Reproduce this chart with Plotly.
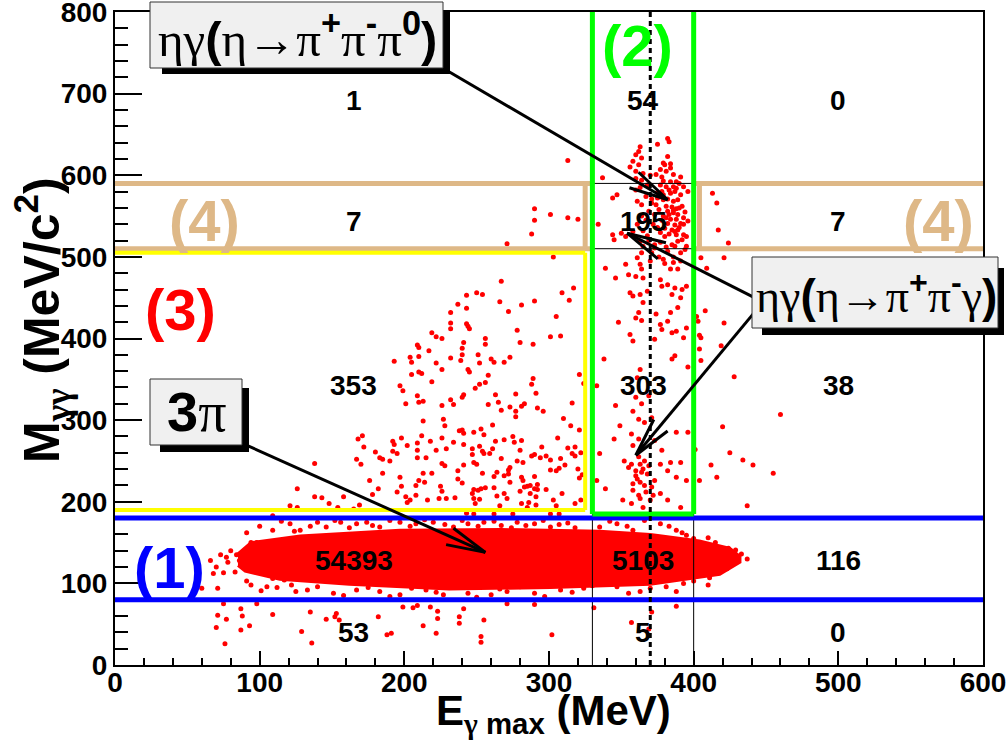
import math
import plotly.graph_objects as go

# ---------------- data ----------------
# dense 3pi band core outline (E_gamma_max [MeV], M_gg [MeV/c^2])
band_core_x = [85, 94, 128, 197, 267, 335, 370, 404, 425, 432, 432, 418, 370, 301, 231, 162, 114, 90, 85]
band_core_y = [136, 150, 158, 165, 166, 164, 160, 152, 143, 133, 126, 111, 99, 95, 93, 99, 105, 115, 122]

# sparse events, region (3) left cloud
pts_cloud_left = [
    (237, 442), (232, 432), (232, 419), (232, 412), (219, 407), (222, 402), (226, 400), (209, 392), (210, 389),
    (217, 385), (204, 377), (210, 378), (205, 371), (193, 372), (222, 370), (232, 376), (226, 362), (205, 356),
    (210, 359), (212, 357), (219, 347), (197, 342), (199, 336), (201, 320), (209, 330), (210, 322), (213, 323),
    (226, 318), (232, 325), (234, 319), (213, 299), (227, 301), (228, 293), (238, 287), (168, 277), (171, 281),
    (172, 267), (192, 274), (193, 270), (198, 278), (202, 269), (209, 272), (212, 281), (218, 274), (226, 278),
    (234, 273), (180, 261), (192, 262), (195, 259), (183, 254), (185, 252), (190, 250), (167, 252), (170, 246),
    (138, 247), (209, 263), (209, 254), (215, 254), (222, 263), (229, 265), (226, 247), (228, 244), (237, 238),
    (185, 235), (182, 216), (178, 209), (176, 226), (197, 230), (195, 212), (198, 219), (201, 206), (202, 199),
    (204, 202), (208, 220), (210, 226), (214, 224), (213, 235), (219, 235), (225, 219), (226, 213), (224, 204),
    (229, 204), (235, 205), (237, 228), (216, 202), (208, 208), (126, 216), (138, 206), (143, 205), (158, 206),
    (148, 198), (121, 195), (126, 193), (154, 193), (169, 196), (165, 191),
]

# sparse events, region (3) right part and region (4) left box
pts_cloud_right = [
    (290, 559), (301, 552), (290, 545), (313, 548), (320, 546), (288, 528), (271, 516), (313, 618),
    (303, 500), (267, 470), (243, 453), (250, 456), (254, 454), (309, 456), (317, 462), (314, 447), (266, 445),
    (290, 446), (243, 437), (281, 441), (272, 433), (305, 427), (243, 418), (244, 415), (245, 412), (278, 410),
    (256, 400), (256, 393), (241, 395), (240, 388), (280, 395), (289, 393), (301, 402), (308, 403), (240, 380),
    (239, 373), (251, 380), (252, 370), (260, 375), (262, 371), (269, 371), (273, 377), (244, 362), (245, 359),
    (258, 355), (256, 346), (252, 344), (249, 339), (289, 351), (288, 344), (291, 333), (321, 356), (324, 345),
    (263, 331), (277, 332), (240, 328), (241, 331), (258, 319), (265, 322), (267, 312), (273, 316), (277, 311),
    (277, 304), (281, 317), (283, 320), (292, 315), (296, 311), (316, 321), (310, 302), (315, 293), (321, 288),
    (240, 288), (241, 284), (248, 285), (253, 289), (255, 282), (261, 294), (241, 270), (247, 265), (247, 258),
    (252, 268), (254, 262), (255, 259), (259, 259), (261, 265), (263, 274), (269, 276), (275, 280), (276, 273),
    (281, 275), (280, 263), (288, 256), (290, 258), (295, 267), (294, 254), (298, 256), (301, 251), (306, 278),
    (308, 253), (313, 266), (316, 259), (318, 267), (318, 256), (322, 260), (241, 245), (248, 248), (250, 246),
    (254, 235), (240, 223), (267, 253), (264, 236), (262, 231), (269, 232), (272, 234), (272, 239), (273, 242),
    (273, 224), (278, 250), (282, 248), (281, 230), (282, 226), (290, 231), (292, 221), (301, 239), (305, 238),
    (307, 241), (311, 245), (320, 240), (321, 229), (323, 233), (248, 215), (251, 214), (253, 216), (256, 217),
    (247, 210), (248, 204), (249, 198), (252, 203), (262, 217), (264, 207), (269, 210), (271, 204), (266, 195),
    (280, 213), (283, 218), (285, 219), (287, 220), (290, 216), (292, 215), (298, 215), (287, 210), (291, 206),
    (281, 198), (286, 199), (291, 196), (303, 202), (305, 195), (309, 210), (318, 198), (322, 202),
    (243, 186), (248, 185), (262, 185), (275, 185), (285, 193), (301, 185), (307, 185),
]

# eta column (region 2)
pts_eta = [
    (382, 645), (383, 641), (375, 638), (363, 635), (362, 629), (360, 625), (364, 621), (382, 623), (358, 617),
    (379, 615), (380, 613), (384, 614), (362, 613), (356, 610), (377, 607), (381, 605), (384, 609), (360, 605),
    (365, 602), (370, 600), (374, 601), (378, 598), (386, 601), (391, 598), (360, 596), (364, 594), (379, 593),
    (384, 592), (388, 592), (337, 597), (368, 588), (377, 588), (381, 586), (388, 584), (393, 586), (363, 585),
    (360, 582), (375, 579), (378, 580), (384, 578), (387, 580), (391, 576), (396, 580), (347, 576), (344, 572),
    (367, 574), (371, 571), (379, 570), (382, 571), (386, 568), (389, 570), (361, 568), (364, 564), (374, 564),
    (381, 562), (385, 561), (388, 559), (392, 562), (334, 540), (382, 556), (386, 554), (389, 552), (379, 550),
    (384, 546), (388, 546), (393, 548), (382, 541), (387, 539), (391, 541), (380, 535), (385, 533), (389, 533),
    (393, 527), (395, 525), (388, 527), (392, 521), (344, 527), (345, 521), (350, 529), (353, 525), (358, 531),
    (363, 519), (365, 513), (364, 505), (373, 511), (382, 507), (387, 513), (395, 513), (391, 505), (361, 499),
    (363, 491), (364, 485), (370, 495), (379, 497), (386, 493), (391, 495), (384, 485), (389, 485), (339, 486),
    (346, 474), (353, 491), (355, 478), (360, 476), (365, 474), (377, 472), (382, 466), (378, 464), (387, 462),
    (392, 460), (395, 464), (356, 456), (358, 452), (363, 454), (368, 458), (385, 454), (391, 450), (365, 444),
    (374, 430), (384, 432), (389, 438), (362, 432), (360, 425), (364, 422), (348, 420), (378, 411), (382, 421),
    (388, 409), (393, 401), (356, 405), (358, 397), (373, 399), (377, 417), (385, 407), (395, 413), (338, 375),
    (385, 375), (387, 379), (396, 365), (363, 362), (361, 352), (333, 342), (346, 318), (360, 328), (364, 320),
    (369, 330), (358, 311), (362, 301), (366, 297), (371, 303), (345, 277), (349, 293), (357, 283), (362, 277),
    (358, 269), (364, 267), (373, 275), (388, 285), (396, 285), (378, 263), (335, 259), (352, 250), (357, 246),
    (360, 238), (363, 246), (365, 240), (368, 234), (361, 228), (363, 224), (366, 220), (371, 218), (377, 246),
    (384, 248), (391, 248), (382, 238), (388, 230), (395, 226), (373, 226), (377, 210), (382, 202), (351, 202),
    (365, 193), (391, 193), (339, 216), (333, 226), (358, 214), (362, 208), (357, 198), (370, 202),
    (369, 556), (373, 552), (376, 558), (378, 545), (381, 548), (383, 552), (386, 557), (390, 560), (394, 555),
    (372, 540), (375, 536), (377, 530), (380, 525), (383, 528), (387, 531), (390, 536), (393, 540), (396, 544),
    (371, 566), (375, 572), (379, 576), (383, 582), (386, 586), (390, 590), (369, 520), (373, 515), (377, 518),
    (381, 512), (385, 515), (389, 519), (394, 509), (367, 545), (364, 550), (361, 540), (365, 532), (368, 526),
    (371, 505), (376, 500), (380, 492), (386, 500), (362, 255), (366, 250), (360, 232), (364, 236), (369, 244),
    (358, 222), (367, 212), (372, 208), (363, 204), (355, 242),
]

# right of the eta column (E > 400 MeV)
pts_right = [
    (408, 434), (402, 427), (403, 421), (421, 419), (404, 404), (405, 401), (419, 391), (404, 387), (405, 373),
    (428, 353), (460, 307), (420, 292), (401, 264), (425, 260), (434, 251), (441, 245), (412, 245), (455, 235),
    (404, 226), (416, 230), (437, 195), (413, 578), (416, 566), (417, 533), (424, 517), (421, 499), (409, 486),
    (405, 499),
]

# band fringe and tails (around / below the pi0 band)
pts_band_edge = [
    (109, 183), (121, 173), (124, 164), (91, 162), (94, 150), (98, 150), (104, 149), (77, 132), (83, 114),
    (75, 113), (60, 94), (71, 94), (91, 103), (94, 98), (101, 91), (105, 96), (109, 106), (112, 95), (117, 104),
    (122, 98), (84, 135), (86, 128), (87, 122), (89, 120),
    (109, 165), (128, 165), (140, 175), (146, 169), (156, 175), (167, 173), (174, 175), (183, 169), (197, 175),
    (208, 173), (220, 175), (234, 169), (244, 173), (255, 175), (267, 171), (278, 175), (290, 173), (301, 169),
    (313, 174), (335, 169), (347, 173), (358, 165), (377, 173), (388, 165), (395, 159),
    (100, 170), (115, 176), (135, 170), (152, 177), (162, 168), (178, 171), (190, 177), (204, 170), (214, 178),
    (228, 172), (240, 177), (251, 170), (262, 176), (274, 168), (284, 171), (296, 177), (307, 172), (318, 168),
    (342, 176), (354, 170), (366, 177), (383, 170), (392, 162), (400, 155),
    (133, 92), (151, 88), (167, 92), (183, 90), (197, 86), (215, 92), (227, 86), (244, 88), (260, 86), (271, 90),
    (290, 88), (308, 92), (324, 94), (347, 96), (363, 90), (381, 96), (393, 100),
    (125, 90), (140, 96), (158, 85), (175, 95), (190, 84), (205, 94), (222, 89), (236, 95), (250, 83), (266, 93),
    (280, 96), (297, 84), (316, 89), (330, 97), (355, 88), (370, 94), (388, 90), (400, 103), (410, 98),
    (410, 156), (424, 143), (429, 141), (423, 118), (411, 107), (421, 130), (415, 150), (417, 122), (407, 112),
    (413, 138), (419, 126), (405, 145), (402, 115), (425, 133), (433, 136), (437, 130), (409, 128),
    (66, 128), (70, 120), (73, 135), (78, 126), (80, 140), (68, 112),
]

# below the band (M_gg < 80)
pts_low = [
    (75, 75), (98, 75), (87, 69), (71, 61), (88, 60), (109, 62), (77, 56), (70, 46), (93, 48), (87, 43), (76, 26),
    (129, 41), (136, 27), (135, 65), (146, 56), (152, 59), (153, 63), (155, 55), (182, 59), (188, 37), (191, 39),
    (206, 70), (209, 73), (213, 48), (223, 66), (223, 57), (222, 39), (238, 59), (238, 51), (253, 35), (253, 28),
    (255, 55), (302, 37), (199, 71), (218, 71), (241, 69), (271, 75), (290, 74),
    (331, 70), (357, 52), (369, 44), (371, 65), (388, 72),
]

# event counts per cell
count_col_x = [165, 365, 500]
count_row_y = [692, 543, 343, 128, 40]
counts = [
    ["1", "54", "0"],
    ["7", "195", "7"],
    ["353", "303", "38"],
    ["54393", "5103", "116"],
    ["53", "5", "0"],
]

# selection cuts
pi0_window = [80, 180]          # (1)
eta_e_window = [330, 400]       # (2)
eta_m_min = 185
bkg_box = [190, 505, 325]       # (3) ymin, ymax, xmax
side_m = [510, 590]             # (4)
side_left_x = [325, 330]
side_right_x = [404, 400]
e_peak = 370

x_ticks = [0, 100, 200, 300, 400, 500, 600]
y_ticks = [0, 100, 200, 300, 400, 500, 600, 700, 800]

# ---------------- layout geometry ----------------
W, H = 1007, 741
L, R, T, B = 115, 24, 12, 76
PW, PH = W - L - R, H - T - B
X_RANGE = (0, 600)
Y_RANGE = (0, 800)
SX = PW / (X_RANGE[1] - X_RANGE[0])
SY = PH / (Y_RANGE[1] - Y_RANGE[0])


def pxx(px):
    return (px - L) / PW


def pxy(py):
    return (H - B - py) / PH


RED = "#ff0000"
BLUE = "#0000ff"
GREEN = "#00ff00"
YELLOW = "#ffff00"
TAN = "#deb887"
SANS = "Liberation Sans"
SERIF = "Liberation Serif"

all_pts = pts_cloud_left + pts_cloud_right + pts_eta + pts_right + pts_band_edge + pts_low

fig = go.Figure()
fig.add_trace(go.Scatter(
    x=band_core_x, y=band_core_y, mode="lines", fill="toself", fillcolor=RED,
    line=dict(color=RED, width=3), hoverinfo="skip", showlegend=False))
fig.add_trace(go.Scatter(
    x=[p[0] for p in all_pts], y=[p[1] for p in all_pts], mode="markers",
    marker=dict(color=RED, size=5, line=dict(width=0)), showlegend=False))

shapes = []


def seg(x0, y0, x1, y1, color, width, dash=None):
    d = dict(type="line", x0=x0, y0=y0, x1=x1, y1=y1, layer="above", xref="x", yref="y",
             line=dict(color=color, width=width))
    if dash:
        d["line"]["dash"] = dash
    shapes.append(d)


# thin black cell lines
for xv in eta_e_window:
    seg(xv, 0, xv, side_m[1], "black", 1)
for yv in side_m:
    seg(eta_e_window[0], yv, eta_e_window[1], yv, "black", 1)

# (4) side-band boxes
for yv in side_m:
    seg(0, yv, side_left_x[1], yv, TAN, 5)
    seg(side_right_x[1], yv, 600, yv, TAN, 5)
seg(side_left_x[0], side_m[0], side_left_x[0], side_m[1], TAN, 5)
seg(side_right_x[0], side_m[0], side_right_x[0], side_m[1], TAN, 5)

# (3) yellow box
seg(0, bkg_box[0], bkg_box[2], bkg_box[0], YELLOW, 4)
seg(0, bkg_box[1], bkg_box[2], bkg_box[1], YELLOW, 4)
seg(bkg_box[2], bkg_box[0], bkg_box[2], bkg_box[1], YELLOW, 4)

# (1) blue lines
for yv in pi0_window:
    seg(0, yv, 600, yv, BLUE, 5)

# (2) green box
seg(eta_e_window[0], eta_m_min, eta_e_window[0], 800, GREEN, 5)
seg(eta_e_window[1], eta_m_min, eta_e_window[1], 800, GREEN, 5)
seg(eta_e_window[0], eta_m_min, eta_e_window[1], eta_m_min, GREEN, 5)

# dotted peak line
seg(e_peak, 0, e_peak, 800, "black", 3, dash="5px,4px")


# arrows (tail -> tip) in data coordinates
def arrow(tail, tip, head_len=40, half_angle=13):
    tx, ty = tail
    hx, hy = tip
    seg(tx, ty, hx, hy, "black", 3)
    dx, dy = (tx - hx) * SX, (ty - hy) * SY
    n = math.hypot(dx, dy)
    ux, uy = dx / n, dy / n
    for s in (1, -1):
        a = math.radians(half_angle * s)
        vx = ux * math.cos(a) - uy * math.sin(a)
        vy = ux * math.sin(a) + uy * math.cos(a)
        seg(hx, hy, hx + vx * head_len / SX, hy + vy * head_len / SY, "black", 3)


arrow((225, 733), (382, 570))
arrow((442, 450), (354, 529))
arrow((442, 432), (360, 257))
arrow((90, 270), (256, 138))


# label boxes with shadows (pixel geometry)
def box(x0, y0, x1, y1, sh):
    shapes.append(dict(type="rect", xref="paper", yref="paper", layer="above",
                       x0=pxx(sh[0]), x1=pxx(sh[2]), y0=pxy(sh[3]), y1=pxy(sh[1]),
                       fillcolor="black", line=dict(width=0)))
    shapes.append(dict(type="rect", xref="paper", yref="paper", layer="above",
                       x0=pxx(x0), x1=pxx(x1), y0=pxy(y1), y1=pxy(y0),
                       fillcolor="#f0f0f0", line=dict(color="#333333", width=1)))


box(150, 2, 443, 68, (162, 10, 450, 74))
box(752, 257, 998, 328, (762, 268, 1004, 335))
box(150, 379, 242, 445, (160, 388, 249, 452))

annotations = []


def gk(s):
    return '<span style="font-family:Liberation Serif">' + s + '</span>'


def sup(s):
    return "<sup><b>" + s + "</b></sup>"


txt1 = gk("ηγ") + "<b>(</b>" + gk("η→π") + sup("+") + gk("π") + sup("-") + gk("π") + sup("0") + "<b>)</b>"
txt2 = gk("ηγ") + "<b>(</b>" + gk("η→π") + sup("+") + gk("π") + sup("-") + gk("γ") + "<b>)</b>"
txt3 = "<b>3</b>" + gk("π")

for t, cx, cy, size in [(txt1, 297, 36, 49), (txt2, 876, 293, 46), (txt3, 196, 412, 56)]:
    annotations.append(dict(text=t, xref="paper", yref="paper", x=pxx(cx), y=pxy(cy),
                            xanchor="center", yanchor="middle", showarrow=False,
                            font=dict(family=SANS, size=size, color="black")))

# counts
for r, yv in enumerate(count_row_y):
    for c, xv in enumerate(count_col_x):
        annotations.append(dict(text=counts[r][c], x=xv, y=yv, xref="x", yref="y",
                                showarrow=False, xanchor="center", yanchor="middle",
                                font=dict(family=SANS, size=28, color="black", weight="bold")))

# region labels
for t, xv, yv, col in [("(1)", 38, 120, BLUE), ("(2)", 361, 759, GREEN), ("(3)", 45, 435, RED),
                       ("(4)", 62, 544, TAN), ("(4)", 569, 544, TAN)]:
    annotations.append(dict(text=t, x=xv, y=yv, xref="x", yref="y", showarrow=False,
                            xanchor="center", yanchor="middle",
                            font=dict(family=SANS, size=58, color=col, weight="bold")))

# axis titles
annotations.append(dict(text="E<sub>" + gk("γ") + " max</sub> (MeV)", xref="paper", yref="paper",
                        x=pxx(553), y=pxy(713), xanchor="center", yanchor="middle", showarrow=False,
                        font=dict(family=SANS, size=42, color="black", weight="bold")))
annotations.append(dict(text="M<sub>" + gk("γγ") + "</sub> (MeV/c<sup>2</sup>)", xref="paper", yref="paper",
                        x=pxx(42), y=pxy(320), xanchor="center", yanchor="middle", showarrow=False,
                        textangle=-90,
                        font=dict(family=SANS, size=50, color="black", weight="bold")))

axis_common = dict(showline=True, linewidth=2, linecolor="black", mirror=True, ticks="inside",
                   tickwidth=2, tickcolor="black", showgrid=False, zeroline=False,
                   ticklabeloverflow="allow", automargin=False,
                   tickfont=dict(family=SANS, size=28, color="black", weight="bold"))

fig.update_layout(
    width=W, height=H, margin=dict(l=L, r=R, t=T, b=B, autoexpand=False),
    paper_bgcolor="white", plot_bgcolor="white", showlegend=False,
    xaxis=dict(range=list(X_RANGE), tickvals=x_ticks, ticklen=14, ticklabelstandoff=-9,
               minor=dict(dtick=20, tick0=0, ticklen=7, tickwidth=1.5, ticks="inside", tickcolor="black"),
               **axis_common),
    yaxis=dict(range=list(Y_RANGE), tickvals=y_ticks, ticklen=27,
               minor=dict(dtick=20, tick0=0, ticklen=13, tickwidth=1.5, ticks="inside", tickcolor="black"),
               **axis_common),
    shapes=shapes, annotations=annotations,
)

fig.write_html("out.html")
